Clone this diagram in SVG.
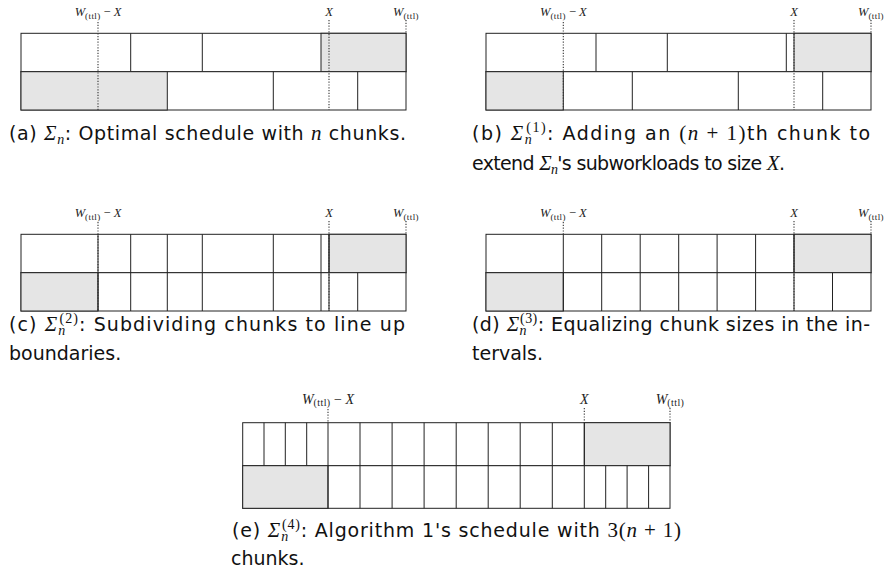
<svg xmlns="http://www.w3.org/2000/svg" width="884" height="579" viewBox="0 0 884 579">
<style>
.cell{fill:#fff;stroke:#222;stroke-width:1}
.g{fill:#e5e5e5;stroke:#222;stroke-width:1}
.dv{stroke:#222;stroke-width:1}
.dot{stroke:#333;stroke-width:1.1;stroke-dasharray:1.2 1.6;fill:none}
.lab{font-family:"Liberation Serif",serif;font-size:12.5px;fill:#222}
.lab .mi{font-style:italic}
.lab .sb{font-size:9px;letter-spacing:0.4px}
.lab.big{font-size:14px}
.lab.big .sb{font-size:10px}
.cap{font-family:"DejaVu Sans","Liberation Sans",sans-serif;font-size:19px;fill:#111}
.mi{font-family:"Liberation Serif",serif;font-style:italic}
.mr{font-family:"Liberation Serif",serif;font-style:normal}
.cap .mi,.cap .mr{font-size:21px}
.cap .sm{font-size:14px}
</style>

<g id="panel-a">
  <rect class="cell" x="21" y="33.3" width="385" height="38.4"/>
  <rect class="g" x="321" y="33.3" width="85" height="38.4"/>
  <line class="dv" x1="130.7" y1="33.3" x2="130.7" y2="71.7"/>
  <line class="dv" x1="202.3" y1="33.3" x2="202.3" y2="71.7"/>
  <rect class="cell" x="21" y="71.7" width="385" height="38.3"/>
  <rect class="g" x="21" y="71.7" width="146.3" height="38.3"/>
  <line class="dv" x1="273.3" y1="71.7" x2="273.3" y2="110"/>
  <line class="dv" x1="357.7" y1="71.7" x2="357.7" y2="110"/>
  <g class="markers">
    <line class="dot" x1="98" y1="22" x2="98" y2="110"/>
    <line class="dot" x1="329" y1="20" x2="329" y2="110"/>
    <line class="dot" x1="406" y1="20" x2="406" y2="33"/>
  </g>
  <text class="lab" x="98" y="16" text-anchor="middle"><tspan class="mi">W</tspan><tspan class="sb" dy="2.5">(ttl)</tspan><tspan dx="3" dy="-2.5">−</tspan><tspan class="mi" dx="3">X</tspan></text>
  <text class="lab" x="329" y="16" text-anchor="middle"><tspan class="mi">X</tspan></text>
  <text class="lab" x="406" y="16" text-anchor="middle"><tspan class="mi">W</tspan><tspan class="sb" dy="2.5">(ttl)</tspan></text>
  <text class="cap" x="9" y="140" textLength="397" lengthAdjust="spacing">(a) <tspan class="mi">Σ</tspan><tspan class="mi sm" dy="4">n</tspan><tspan dy="-4">: Optimal schedule with </tspan><tspan class="mi">n</tspan> chunks.</text>
</g>

<g id="panel-b">
  <rect class="cell" x="486" y="33.3" width="385" height="38.4"/>
  <rect class="g" x="794" y="33.3" width="77" height="38.4"/>
  <line class="dv" x1="596" y1="33.3" x2="596" y2="71.7"/>
  <line class="dv" x1="667.3" y1="33.3" x2="667.3" y2="71.7"/>
  <line class="dv" x1="786.3" y1="33.3" x2="786.3" y2="71.7"/>
  <rect class="cell" x="486" y="71.7" width="385" height="38.3"/>
  <rect class="g" x="486" y="71.7" width="77.3" height="38.3"/>
  <line class="dv" x1="632.3" y1="71.7" x2="632.3" y2="110"/>
  <line class="dv" x1="738.3" y1="71.7" x2="738.3" y2="110"/>
  <line class="dv" x1="822.7" y1="71.7" x2="822.7" y2="110"/>
  <g class="markers">
    <line class="dot" x1="563.3" y1="22" x2="563.3" y2="110"/>
    <line class="dot" x1="794" y1="20" x2="794" y2="110"/>
    <line class="dot" x1="871" y1="20" x2="871" y2="33"/>
  </g>
  <text class="lab" x="563.3" y="16" text-anchor="middle"><tspan class="mi">W</tspan><tspan class="sb" dy="2.5">(ttl)</tspan><tspan dx="3" dy="-2.5">−</tspan><tspan class="mi" dx="3">X</tspan></text>
  <text class="lab" x="794" y="16" text-anchor="middle"><tspan class="mi">X</tspan></text>
  <text class="lab" x="871" y="16" text-anchor="middle"><tspan class="mi">W</tspan><tspan class="sb" dy="2.5">(ttl)</tspan></text>
  <text class="cap" x="472" y="140" textLength="398" lengthAdjust="spacing">(b) <tspan class="mi">Σ</tspan><tspan class="mi sm" dy="4">n</tspan><tspan class="mr sm" dx="-7" dy="-12">(1)</tspan><tspan dy="8">: Adding an </tspan><tspan class="mr">(</tspan><tspan class="mi">n</tspan><tspan class="mr"> + 1)</tspan>th chunk to</text>
  <text class="cap" x="472" y="169.5" textLength="313" lengthAdjust="spacing">extend <tspan class="mi">Σ</tspan><tspan class="mi sm" dy="4">n</tspan><tspan dy="-4">'s subworkloads to size </tspan><tspan class="mi">X</tspan>.</text>
</g>

<g id="panel-c">
  <rect class="cell" x="21" y="234.3" width="385" height="38.4"/>
  <rect class="g" x="329" y="234.3" width="77" height="38.4"/>
  <rect class="cell" x="21" y="272.7" width="385" height="38.3"/>
  <rect class="g" x="21" y="272.7" width="77" height="38.3"/>
  <line class="dv" x1="98" y1="234.3" x2="98" y2="311"/>
  <line class="dv" x1="130.7" y1="234.3" x2="130.7" y2="311"/>
  <line class="dv" x1="167.3" y1="234.3" x2="167.3" y2="311"/>
  <line class="dv" x1="202.3" y1="234.3" x2="202.3" y2="311"/>
  <line class="dv" x1="273.3" y1="234.3" x2="273.3" y2="311"/>
  <line class="dv" x1="321" y1="234.3" x2="321" y2="311"/>
  <line class="dv" x1="329" y1="234.3" x2="329" y2="311"/>
  <line class="dv" x1="357.7" y1="272.7" x2="357.7" y2="311"/>
  <g class="markers">
    <line class="dot" x1="98" y1="222" x2="98" y2="311"/>
    <line class="dot" x1="329" y1="221" x2="329" y2="311"/>
    <line class="dot" x1="406" y1="221" x2="406" y2="234"/>
  </g>
  <text class="lab" x="98" y="217" text-anchor="middle"><tspan class="mi">W</tspan><tspan class="sb" dy="2.5">(ttl)</tspan><tspan dx="3" dy="-2.5">−</tspan><tspan class="mi" dx="3">X</tspan></text>
  <text class="lab" x="329" y="217" text-anchor="middle"><tspan class="mi">X</tspan></text>
  <text class="lab" x="406" y="217" text-anchor="middle"><tspan class="mi">W</tspan><tspan class="sb" dy="2.5">(ttl)</tspan></text>
  <text class="cap" x="9" y="330.5" textLength="396" lengthAdjust="spacing">(c) <tspan class="mi">Σ</tspan><tspan class="mi sm" dy="4">n</tspan><tspan class="mr sm" dx="-7" dy="-12">(2)</tspan><tspan dy="8">: Subdividing chunks to line up</tspan></text>
  <text class="cap" x="9" y="359.5">boundaries.</text>
</g>

<g id="panel-d">
  <rect class="cell" x="486" y="234.3" width="385" height="38.4"/>
  <rect class="g" x="794" y="234.3" width="77" height="38.4"/>
  <rect class="cell" x="486" y="272.7" width="385" height="38.3"/>
  <rect class="g" x="486" y="272.7" width="77.3" height="38.3"/>
  <line class="dv" x1="563.3" y1="234.3" x2="563.3" y2="311"/>
  <line class="dv" x1="601.7" y1="234.3" x2="601.7" y2="311"/>
  <line class="dv" x1="640.2" y1="234.3" x2="640.2" y2="311"/>
  <line class="dv" x1="678.7" y1="234.3" x2="678.7" y2="311"/>
  <line class="dv" x1="717.1" y1="234.3" x2="717.1" y2="311"/>
  <line class="dv" x1="755.6" y1="234.3" x2="755.6" y2="311"/>
  <line class="dv" x1="794" y1="234.3" x2="794" y2="311"/>
  <line class="dv" x1="832.5" y1="272.7" x2="832.5" y2="311"/>
  <g class="markers">
    <line class="dot" x1="563.3" y1="222" x2="563.3" y2="234"/>
    <line class="dot" x1="794" y1="221" x2="794" y2="311"/>
    <line class="dot" x1="871" y1="221" x2="871" y2="234"/>
  </g>
  <text class="lab" x="563.3" y="217" text-anchor="middle"><tspan class="mi">W</tspan><tspan class="sb" dy="2.5">(ttl)</tspan><tspan dx="3" dy="-2.5">−</tspan><tspan class="mi" dx="3">X</tspan></text>
  <text class="lab" x="794" y="217" text-anchor="middle"><tspan class="mi">X</tspan></text>
  <text class="lab" x="871" y="217" text-anchor="middle"><tspan class="mi">W</tspan><tspan class="sb" dy="2.5">(ttl)</tspan></text>
  <text class="cap" x="472" y="330.5" textLength="398" lengthAdjust="spacing">(d) <tspan class="mi">Σ</tspan><tspan class="mi sm" dy="4">n</tspan><tspan class="mr sm" dx="-7" dy="-12">(3)</tspan><tspan dy="8">: Equalizing chunk sizes in the in-</tspan></text>
  <text class="cap" x="472" y="359.5">tervals.</text>
</g>

<g id="panel-e">
  <rect class="cell" x="242.7" y="422.7" width="427.3" height="43"/>
  <rect class="g" x="584.3" y="422.7" width="85.7" height="43"/>
  <rect class="cell" x="242.7" y="465.7" width="427.3" height="42.6"/>
  <rect class="g" x="242.7" y="465.7" width="85.3" height="42.6"/>
  <line class="dv" x1="264" y1="422.7" x2="264" y2="465.7"/>
  <line class="dv" x1="285.3" y1="422.7" x2="285.3" y2="465.7"/>
  <line class="dv" x1="306.7" y1="422.7" x2="306.7" y2="465.7"/>
  <line class="dv" x1="328" y1="422.7" x2="328" y2="508.3"/>
  <line class="dv" x1="360" y1="422.7" x2="360" y2="508.3"/>
  <line class="dv" x1="392.1" y1="422.7" x2="392.1" y2="508.3"/>
  <line class="dv" x1="424.1" y1="422.7" x2="424.1" y2="508.3"/>
  <line class="dv" x1="456.2" y1="422.7" x2="456.2" y2="508.3"/>
  <line class="dv" x1="488.2" y1="422.7" x2="488.2" y2="508.3"/>
  <line class="dv" x1="520.2" y1="422.7" x2="520.2" y2="508.3"/>
  <line class="dv" x1="552.3" y1="422.7" x2="552.3" y2="508.3"/>
  <line class="dv" x1="584.3" y1="422.7" x2="584.3" y2="508.3"/>
  <line class="dv" x1="605.7" y1="465.7" x2="605.7" y2="508.3"/>
  <line class="dv" x1="627.1" y1="465.7" x2="627.1" y2="508.3"/>
  <line class="dv" x1="648.6" y1="465.7" x2="648.6" y2="508.3"/>
  <g class="markers">
    <line class="dot" x1="328" y1="409" x2="328" y2="422.7"/>
    <line class="dot" x1="584.3" y1="408" x2="584.3" y2="422.7"/>
    <line class="dot" x1="670" y1="408" x2="670" y2="422.7"/>
  </g>
  <text class="lab big" x="328" y="403.5" text-anchor="middle"><tspan class="mi">W</tspan><tspan class="sb" dy="2.8">(ttl)</tspan><tspan dx="3.5" dy="-2.8">−</tspan><tspan class="mi" dx="3.5">X</tspan></text>
  <text class="lab big" x="584.3" y="403.5" text-anchor="middle"><tspan class="mi">X</tspan></text>
  <text class="lab big" x="670" y="403.5" text-anchor="middle"><tspan class="mi">W</tspan><tspan class="sb" dy="2.8">(ttl)</tspan></text>
  <text class="cap" x="232" y="536.7" textLength="449" lengthAdjust="spacing">(e) <tspan class="mi">Σ</tspan><tspan class="mi sm" dy="4">n</tspan><tspan class="mr sm" dx="-7" dy="-12">(4)</tspan><tspan dy="8">: Algorithm 1's schedule with </tspan><tspan class="mr">3(</tspan><tspan class="mi">n</tspan><tspan class="mr"> + 1)</tspan></text>
  <text class="cap" x="231" y="565">chunks.</text>
</g>
</svg>
